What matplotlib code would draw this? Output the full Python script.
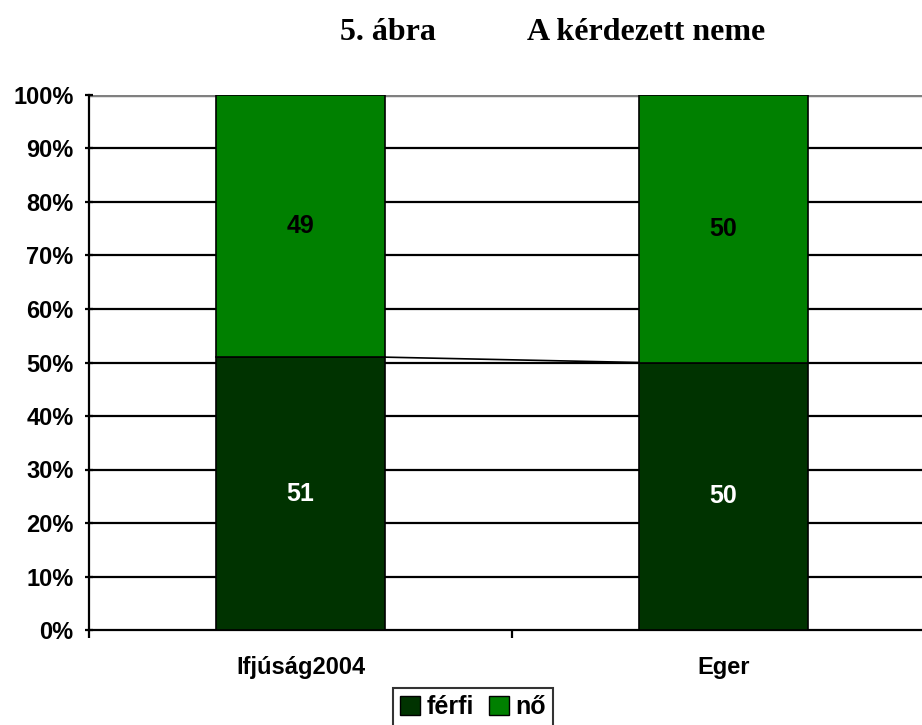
import matplotlib
matplotlib.use("Agg")
from matplotlib import pyplot as plt
from matplotlib.patches import Patch
import numpy as np

categories = ["Ifjúság2004", "Eger"]
ferfi = [51, 50]
no = [49, 50]
series_names = ["férfi", "nő"]
colors = ["#003300", "#008000"]

fig = plt.figure(figsize=(9.22, 7.25), dpi=100)
ax = fig.add_axes([89 / 922, 95 / 725, 846 / 922, 535 / 725])

x = np.arange(len(categories)) + 0.5
w = 0.40

for y in range(10, 100, 10):
    ax.axhline(y, color="black", lw=1.6, zorder=1)
ax.axhline(100, color="#808080", lw=2.5, zorder=1)

ax.bar(x, ferfi, w, color=colors[0], edgecolor="black", lw=1.2, zorder=3)
ax.bar(x, no, w, bottom=ferfi, color=colors[1], edgecolor="black", lw=1.2, zorder=3)

# series line between bars
ax.plot([x[0] + w / 2, x[1] - w / 2], [ferfi[0], ferfi[1]], color="black", lw=1.2, zorder=4)

for xi, f, n in zip(x, ferfi, no):
    ax.text(xi, f / 2, str(f), ha="center", va="center", color="white",
            fontsize=18, fontweight="bold", family="Liberation Sans", zorder=5)
    ax.text(xi, f + n / 2, str(n), ha="center", va="center", color="black",
            fontsize=18, fontweight="bold", family="Liberation Sans", zorder=5)

ax.set_xlim(0, 2)
ax.set_ylim(0, 100)
ax.set_yticks(range(0, 101, 10))
ax.set_yticklabels([f"{v}%" for v in range(0, 101, 10)], fontsize=17,
                   fontweight="bold", family="Liberation Sans")
ax.set_xticks([0, 1, 2])
ax.set_xticklabels([])
ax.set_xticks(x, minor=True)
ax.set_xticklabels(categories, minor=True, fontsize=17, fontweight="bold",
                   family="Liberation Sans")
ax.tick_params(axis="x", which="minor", length=0, pad=19)
ax.tick_params(axis="x", which="major", length=6, width=1.6, direction="out")
ax.tick_params(axis="y", length=6, width=1.6, direction="inout", pad=8)

for s in ["top", "right"]:
    ax.spines[s].set_visible(False)
ax.spines["left"].set_linewidth(1.6)
ax.spines["bottom"].set_linewidth(1.6)

fig.text(388 / 922, 1 - 32 / 725, "5. ábra", ha="center", va="center",
         fontsize=23, fontweight="bold", family="Liberation Serif")
fig.text(646 / 922, 1 - 32 / 725, "A kérdezett neme", ha="center", va="center",
         fontsize=23, fontweight="bold", family="Liberation Serif")

handles = [Patch(facecolor=c, edgecolor="black", label=l) for c, l in zip(colors, series_names)]
leg = fig.legend(handles=handles, loc="center", bbox_to_anchor=(473 / 922, 1 - 707 / 725),
                 ncol=2, frameon=True, fancybox=False, edgecolor="black",
                 prop={"family": "Liberation Sans", "weight": "bold", "size": 18},
                 handlelength=0.8, handleheight=0.8, handletextpad=0.25, columnspacing=0.6,
                 borderpad=0.3, borderaxespad=0)
leg.get_frame().set_linewidth(1.5)

fig.savefig("out.png", dpi=100)
